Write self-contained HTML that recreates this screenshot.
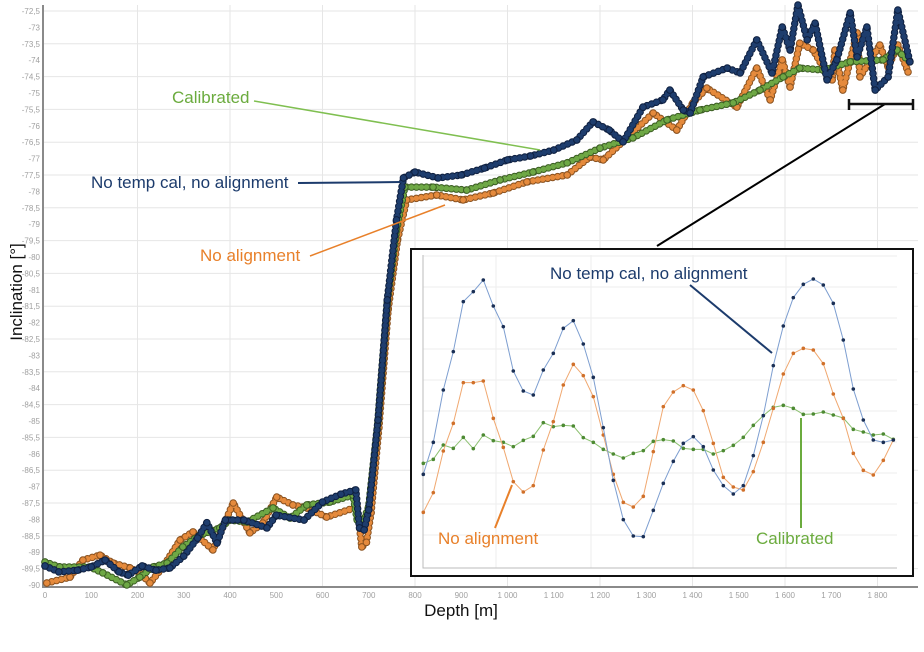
<!DOCTYPE html>
<html><head><meta charset="utf-8">
<style>
body{margin:0;background:#fff;}
svg{display:block;font-family:"Liberation Sans",sans-serif;}
</style></head>
<body>
<svg id="chart" width="924" height="652" viewBox="0 0 924 652">
<g id="grid"></g>
<g id="axes"></g>
<g id="series"></g>
<g id="annot">
  <text x="172" y="103" font-size="17" fill="#6bab3e">Calibrated</text>
  <line x1="254" y1="101" x2="540" y2="150" stroke="#7fbf50" stroke-width="1.5"/>
  <text x="91" y="188" font-size="17" fill="#1c3b6c">No temp cal, no alignment</text>
  <line x1="298" y1="183" x2="402" y2="182" stroke="#1c3b6c" stroke-width="2"/>
  <text x="200" y="261" font-size="17" fill="#e8802a">No alignment</text>
  <line x1="310" y1="256" x2="445" y2="205" stroke="#e8802a" stroke-width="1.5"/>
  <line x1="657" y1="246" x2="885" y2="104" stroke="#000" stroke-width="2"/>
  <g stroke="#111" stroke-width="2.5">
    <line x1="849" y1="104" x2="913" y2="104"/><line x1="849" y1="99" x2="849" y2="110"/><line x1="913" y1="99" x2="913" y2="110"/>
  </g>
</g>
<g id="inset">
  <rect x="411" y="249" width="502" height="327" fill="#fff" stroke="#111" stroke-width="2"/>
  <g id="insetgrid"></g>
  <g id="insetseries"></g>
  <text x="550" y="279" font-size="17" fill="#1c3b6c">No temp cal, no alignment</text>
  <line x1="690" y1="285" x2="772" y2="353" stroke="#1c3b6c" stroke-width="2"/>
  <text x="438" y="544" font-size="17" fill="#e8802a">No alignment</text>
  <line x1="512" y1="485" x2="495" y2="528" stroke="#e8802a" stroke-width="2"/>
  <text x="756" y="544" font-size="17" fill="#6bab3e">Calibrated</text>
  <line x1="801" y1="418" x2="801" y2="528" stroke="#6bab3e" stroke-width="2"/>
</g>
<text x="461" y="616" font-size="17" text-anchor="middle" fill="#111">Depth [m]</text>
<text transform="translate(22,292) rotate(-90)" font-size="17" text-anchor="middle" fill="#111">Inclination [°]</text>
</svg>
<script>
const xTicks=[0,100,200,300,400,500,600,700,800,900,1000,1100,1200,1300,1400,1500,1600,1700,1800];
const xTickLabels=["0","100","200","300","400","500","600","700","800","900","1 000","1 100","1 200","1 300","1 400","1 500","1 600","1 700","1 800"];
const yTicks=[-72.5,-73,-73.5,-74,-74.5,-75,-75.5,-76,-76.5,-77,-77.5,-78,-78.5,-79,-79.5,-80,-80.5,-81,-81.5,-82,-82.5,-83,-83.5,-84,-84.5,-85,-85.5,-86,-86.5,-87,-87.5,-88,-88.5,-89,-89.5,-90];

const blueDepth=[0,30,70,100,130,160,180,210,240,270,300,330,350,372,390,430,480,500,560,600,640,672,680,690,700,720,740,760,775,800,850,900,950,1000,1050,1100,1150,1185,1220,1250,1293,1336,1351,1380,1395,1423,1475,1503,1539,1572,1594,1611,1628,1648,1665,1691,1712,1741,1756,1777,1795,1823,1844,1870];
const blueVal=[-89.42,-89.6,-89.55,-89.45,-89.24,-89.6,-89.7,-89.42,-89.55,-89.48,-89.12,-88.57,-88.1,-88.72,-88.02,-88.02,-88.26,-87.87,-88.02,-87.47,-87.23,-87.1,-88.26,-88.32,-87.71,-84.97,-81.31,-78.87,-77.59,-77.41,-77.59,-77.5,-77.29,-77.04,-76.92,-76.74,-76.43,-75.88,-76.13,-76.49,-75.43,-75.21,-74.91,-75.52,-75.61,-74.51,-74.24,-74.39,-73.38,-74.39,-72.99,-73.69,-72.32,-73.38,-72.87,-74.6,-73.99,-72.56,-73.9,-72.99,-74.91,-74.51,-72.47,-74.05];

const greenDepth=[0,32,97,125,177,205,234,264,298,335,378,400,437,493,530,566,616,666,675,690,700,720,740,760,778,839,912,984,1055,1129,1200,1271,1345,1416,1488,1546,1596,1632,1682,1741,1812,1842,1870];
const greenVal=[-89.3,-89.45,-89.45,-89.63,-90.0,-89.76,-89.45,-89.33,-88.84,-88.48,-88.26,-88.02,-88.08,-87.65,-87.96,-87.56,-87.47,-87.26,-88.02,-88.0,-87.6,-85.0,-81.4,-79.2,-77.87,-77.87,-77.96,-77.65,-77.41,-77.13,-76.68,-76.37,-75.82,-75.52,-75.3,-74.91,-74.51,-74.24,-74.3,-74.05,-73.99,-73.69,-74.05];

const orangeDepth=[4,54,82,119,147,184,205,227,255,292,320,363,407,443,471,501,536,566,609,675,685,695,705,722,742,762,782,847,904,969,1042,1129,1178,1207,1258,1315,1366,1401,1431,1496,1539,1568,1594,1611,1632,1661,1682,1702,1708,1725,1756,1762,1805,1823,1844,1866];
const orangeVal=[-89.94,-89.76,-89.24,-89.09,-89.33,-89.48,-89.63,-89.94,-89.45,-88.63,-88.38,-88.93,-87.5,-88.41,-88.11,-87.32,-87.56,-87.65,-87.93,-87.62,-88.84,-88.7,-87.8,-85.2,-81.6,-79.5,-78.26,-78.11,-78.26,-78.05,-77.71,-77.5,-76.95,-77.04,-76.37,-75.61,-76.13,-75.3,-74.85,-75.43,-74.24,-75.21,-73.99,-74.82,-73.48,-73.69,-74.21,-74.6,-73.69,-74.91,-73.17,-74.51,-73.54,-74.21,-73.54,-74.36];

// inset: relative level units (0 = top, 1000 = bottom of inset scale)
const insetBlue=[688,592,435,320,170,140,105,183,245,378,438,450,375,325,250,227,297,397,548,706,824,873,875,796,715,649,595,575,605,675,722,747,722,632,512,362,243,158,118,102,120,175,285,432,525,585,592,585];
const insetOrange=[802,743,618,535,413,413,408,520,607,710,741,722,615,530,420,358,392,455,570,688,772,786,754,620,485,441,422,435,497,595,697,726,735,680,592,490,387,325,310,315,356,447,520,625,676,690,646,585];
const insetGreen=[655,643,600,610,577,611,570,587,592,605,586,574,533,545,541,543,578,592,613,627,639,625,617,589,584,588,610,613,613,627,617,601,577,541,512,487,481,490,508,507,501,510,519,553,561,570,567,583];

const NS="http://www.w3.org/2000/svg";
function mk(tag,attrs,parent){const e=document.createElementNS(NS,tag);for(const k in attrs)e.setAttribute(k,attrs[k]);parent.appendChild(e);return e;}
const xS=d=>45+d*0.4625;
const yS=v=>11+(-72.5-v)*32.8;
const grid=document.getElementById('grid'),axes=document.getElementById('axes'),series=document.getElementById('series');

yTicks.forEach((t,i)=>{
  if(i%2===0){const l=mk('line',{x1:44,x2:918,y1:yS(t),y2:yS(t),stroke:'#e6e6e6','stroke-width':1},grid);
  
  }
  const tx=mk('text',{x:40,y:yS(t)+3,'font-size':8,'text-anchor':'end',fill:'#a0a0a0'},axes);
  tx.textContent=String(t).replace('.',',');
  
  
});
xTicks.forEach((t,i)=>{
  if(i%2===0&&i>0){const l=mk('line',{x1:xS(t),x2:xS(t),y1:5,y2:587,stroke:'#e6e6e6','stroke-width':1},grid);
  
  }
  const tx=mk('text',{x:xS(t),y:598,'font-size':8,'text-anchor':'middle',fill:'#a0a0a0'},axes);
  tx.textContent=xTickLabels[i];
  
  
});
const ya=mk('line',{x1:43,x2:43,y1:5,y2:588,stroke:'#8a8a8a','stroke-width':2},axes);


const xa=mk('line',{x1:42,x2:918,y1:587,y2:587,stroke:'#8a8a8a','stroke-width':2},axes);



function drawSeries(depths,vals,fill,stroke,name){
  const g=mk('g',{},series);
  
  
  const pts=depths.map((d,i)=>xS(d)+','+yS(vals[i])).join(' ');
  mk('polyline',{points:pts,fill:'none',stroke:fill,'stroke-width':1,opacity:0.6},g);
  mk('polyline',{points:pts,fill:'none',stroke:stroke,'stroke-width':7.5,'stroke-linecap':'round','stroke-linejoin':'round','stroke-dasharray':'0 5'},g);
  mk('polyline',{points:pts,fill:'none',stroke:fill,'stroke-width':5.5,'stroke-linecap':'round','stroke-linejoin':'round','stroke-dasharray':'0 5'},g);
  depths.forEach((d,i)=>{
    const c=mk('circle',{cx:xS(d),cy:yS(vals[i]),r:3.3,fill:fill,stroke:stroke,'stroke-width':1},g);
    
    
  });
}
drawSeries(orangeDepth,orangeVal,'#e58a3c','#8a5220','no-alignment-series');
drawSeries(greenDepth,greenVal,'#6ea845','#3c5e24','calibrated-series');
drawSeries(blueDepth,blueVal,'#1e3d6d','#0f2040','no-temp-cal-series');

// inset
const ix=i=>423.3+i*10;
const iy=v=>245+v/3;
const ig=document.getElementById('insetgrid'),is=document.getElementById('insetseries');
for(let k=0;k<10;k++){
  const y=256+k*31;
  const l=mk('line',{x1:423,x2:897,y1:y,y2:y,stroke:'#eeeeee','stroke-width':1},ig);
  
  
}
[496,591,693,786].forEach(x=>{
  const l=mk('line',{x1:x,x2:x,y1:255,y2:568,stroke:'#eeeeee','stroke-width':1},ig);
  
  
});
const iax=mk('path',{d:'M423 255 V568 H897',fill:'none',stroke:'#bbbbbb','stroke-width':1},ig);


function drawInset(vals,line,dot,name){
  const g=mk('g',{},is);
  
  
  mk('polyline',{points:vals.map((v,i)=>ix(i)+','+iy(v)).join(' '),fill:'none',stroke:line,'stroke-width':1},g);
  vals.forEach((v,i)=>{
    const c=mk('circle',{cx:ix(i),cy:iy(v),r:1.8,fill:dot},g);
    
    
  });
}
drawInset(insetGreen,'#8cc070','#4d8a33','inset-calibrated-series');
drawInset(insetOrange,'#f0a870','#d0702a','inset-no-alignment-series');
drawInset(insetBlue,'#7d9ed0','#1a2f55','inset-no-temp-cal-series');
</script>
</body></html>
